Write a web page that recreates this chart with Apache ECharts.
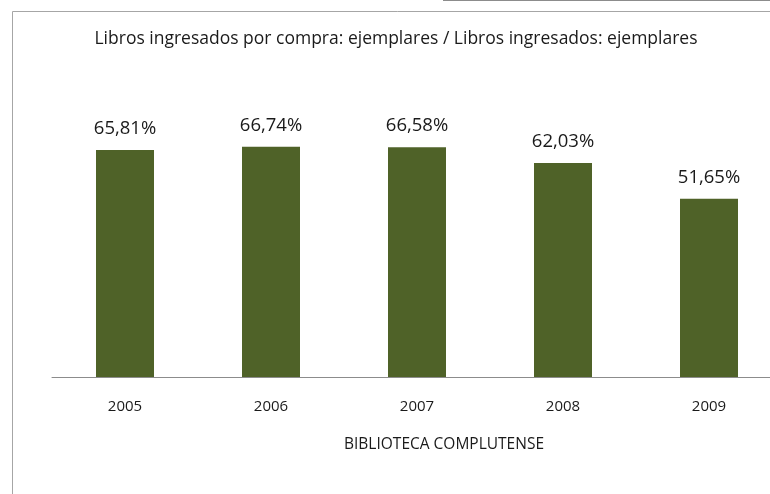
<!DOCTYPE html>
<html>
<head>
<meta charset="utf-8">
<script src="https://cdn.jsdelivr.net/npm/echarts@6/dist/echarts.min.js"></script>
<style>
  html, body { margin: 0; padding: 0; background: #fff; overflow: hidden; }
  #chart { width: 782px; height: 494px; }
</style>
</head>
<body>
<div id="chart"></div>
<script>
// datos
const years = ['2005', '2006', '2007', '2008', '2009']
const porcentajes = [65.81, 66.74, 66.58, 62.03, 51.65]

// el eje del original sigue más allá del borde derecho: el lienzo es algo más ancho que la ventana
const chart = echarts.init(document.getElementById('chart'))
const font = 'Open Sans, Liberation Sans, sans-serif'

chart.setOption({
    backgroundColor: '#fff',
    animation: false,
    title: [
        {
            text: 'Libros ingresados por compra: ejemplares / Libros ingresados: ejemplares',
            left: 391, top: 25, textAlign: 'center',
            textStyle: { fontFamily: font, fontSize: 17.5, fontWeight: 'normal', color: '#1a1a1a' }
        },
        {
            text: 'BIBLIOTECA COMPLUTENSE',
            left: 439, top: 432, textAlign: 'center',
            textStyle: { fontFamily: font, fontSize: 15.5, fontWeight: 'normal', color: '#1a1a1a' }
        }
    ],
    grid: { left: 52, right: 0, top: 101, bottom: 117 },
    xAxis: {
        type: 'category',
        data: years,
        axisLine: { lineStyle: { color: '#8c8c8c', width: 1 } },
        axisTick: { show: false },
        axisLabel: { margin: 22, fontFamily: font, fontSize: 15, color: '#1a1a1a' }
    },
    yAxis: {
        type: 'value', min: 0, max: 80,
        show: false,
        splitLine: { show: false }
    },
    series: [{
        type: 'bar',
        data: porcentajes,
        barWidth: 58,
        itemStyle: { color: '#4f6228' },
        label: {
            show: true, position: 'top', distance: 12,
            fontFamily: font, fontSize: 18.5, color: '#1a1a1a',
            formatter: p => p.value.toFixed(2).replace('.', ',') + '%'
        }
    }],
    graphic: [
        { type: 'line', shape: { x1: 12.5, y1: 11.5, x2: 782, y2: 11.5 }, style: { stroke: '#a6a6a6', lineWidth: 1 } },
        { type: 'line', shape: { x1: 12.5, y1: 11.5, x2: 12.5, y2: 494 }, style: { stroke: '#a6a6a6', lineWidth: 1 } },
        { type: 'line', shape: { x1: 443, y1: 0.5, x2: 782, y2: 0.5 }, style: { stroke: '#8c8c8c', lineWidth: 1 } }
    ]
})
</script>
</body>
</html>
